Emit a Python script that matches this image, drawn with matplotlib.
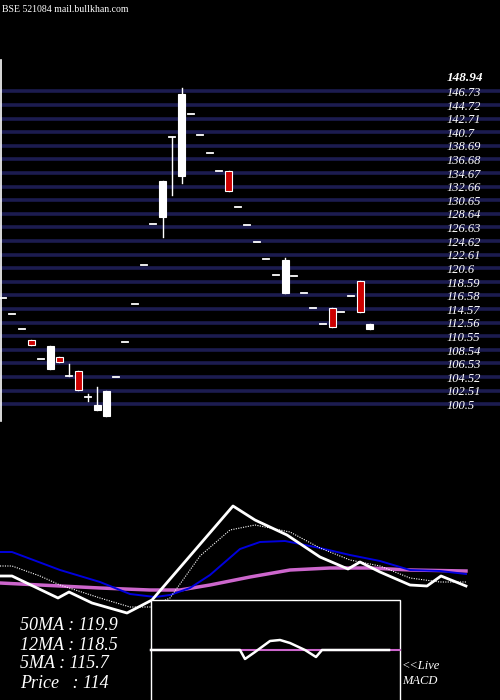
import matplotlib
matplotlib.use('Agg')
import matplotlib.pyplot as plt
from matplotlib.patches import Rectangle

# ---- candle data (price units) ----
opens  = [116.4, 114.05, 111.9, 110.25, 107.4, 105.97, 107.74, 104.99, 105.67, 101.78,
          99.9, 99.0, 104.74, 109.9, 115.5, 121.28, 127.34, 128.4, 140.23, 134.48,
          143.6, 140.6, 137.83, 135.17, 135.17, 129.9, 127.2, 124.68, 122.17, 119.8,
          117.24, 119.66, 117.15, 114.93, 112.66, 114.93, 114.34, 116.7, 118.92, 111.9]
closes = [116.4, 114.05, 111.9, 109.55, 107.4, 109.36, 107.04, 104.99, 102.86, 101.78,
          100.65, 102.7, 104.74, 109.9, 115.5, 121.28, 127.34, 133.7, 140.23, 146.63,
          143.6, 140.6, 137.83, 135.17, 132.3, 129.9, 127.2, 124.68, 122.17, 119.8,
          122.07, 119.66, 117.15, 114.93, 112.66, 112.12, 114.34, 116.7, 114.34, 112.57]
highs  = [116.4, 114.05, 111.9, 110.25, 107.4, 109.36, 107.74, 106.7, 105.67, 102.2,
          103.3, 102.7, 104.74, 109.9, 115.5, 121.28, 127.34, 133.7, 140.23, 147.47,
          143.6, 140.6, 137.83, 135.17, 135.17, 129.9, 127.2, 124.68, 122.17, 119.8,
          122.3, 119.66, 117.15, 114.93, 112.66, 114.93, 114.34, 116.7, 118.92, 112.57]
lows   = [116.4, 114.05, 111.9, 109.55, 107.4, 105.97, 107.04, 104.99, 102.86, 101.3,
          99.9, 99.0, 104.74, 109.9, 115.5, 121.28, 127.34, 125.46, 131.67, 133.5,
          143.6, 140.6, 137.83, 135.17, 132.3, 129.9, 127.2, 124.68, 122.17, 119.8,
          117.24, 119.66, 117.15, 114.93, 112.66, 112.12, 114.34, 116.7, 114.34, 111.9]

grid_prices = [146.73, 144.72, 142.71, 140.7, 138.69, 136.68, 134.67, 132.66, 130.65,
               128.64, 126.63, 124.62, 122.61, 120.6, 118.59, 116.58, 114.57, 112.56,
               110.55, 108.54, 106.53, 104.52, 102.51, 100.5]
grid_labels = ['146.73', '144.72', '142.71', '140.7', '138.69', '136.68', '134.67', '132.66',
               '130.65', '128.64', '126.63', '124.62', '122.61', '120.6', '118.59', '116.58',
               '114.57', '112.56', '110.55', '108.54', '106.53', '104.52', '102.51', '100.5']
top_price = 148.94

# ---- moving average panel (pixel rows) ----
price_x = [0, 12, 58, 69, 92, 127, 152, 233, 255, 287, 320, 348, 360, 380, 410, 427, 441, 466]
price_y = [576, 576, 598, 592, 603, 613, 600, 506, 520, 535, 557, 569, 562, 572, 585, 586, 576, 586]
ma5_x = [0, 12, 40, 60, 100, 130, 150, 170, 200, 230, 255, 290, 320, 350, 380, 410, 440, 466]
ma5_y = [566, 566, 576, 585, 598, 607, 607, 598, 556, 530, 525, 532, 548, 560, 566, 578, 582, 582]
ma12_x = [0, 12, 60, 100, 130, 155, 170, 190, 210, 240, 260, 285, 320, 350, 380, 410, 440, 466]
ma12_y = [552, 552, 570, 582, 594, 597, 595, 588, 575, 549, 542, 541, 548, 555, 561, 570, 571, 574]
ma50_x = [0, 60, 100, 150, 180, 210, 250, 290, 330, 370, 410, 466]
ma50_y = [583, 586, 588, 590, 590, 585, 577, 570, 568, 568, 570, 571]
macd_x = [151, 240, 245, 255, 270, 280, 290, 305, 316, 322, 389]
macd_y = [650, 650, 659, 652, 641, 640, 643, 650, 657, 650, 650]

fig = plt.figure(figsize=(5, 7), dpi=100, facecolor='black')
ax = fig.add_axes([0, 0, 1, 1])
ax.set_facecolor('black')
ax.set_xlim(0, 500)
ax.set_ylim(700, 0)
ax.axis('off')

axp = fig.add_axes([0, 270 / 700, 1, 430 / 700])
axp.patch.set_alpha(0)
axp.set_xlim(0, 500)
axp.set_ylim(96.95, 160.47)
axp.axis('off')

serif = 'Liberation Serif'
for p, lab in zip(grid_prices, grid_labels):
    axp.axhline(p + 0.25, color='#1c1c50', lw=2.6, zorder=1)
    axp.text(447, p, lab, color='white', fontsize=9, family=serif, style='italic',
             va='center', ha='left', zorder=3)
axp.text(447, top_price, f'{top_price}', color='white', fontsize=9.5, family=serif,
         style='italic', weight='bold', va='center', ha='left', zorder=3)
axp.axvline(0.8, ymin=(160.47 - 146.7 - 12) / 63.5 * 0 + 0.02, ymax=0.86, color='white', lw=1.2)

for i, (o, c, h, l) in enumerate(zip(opens, closes, highs, lows)):
    x = 3 + i * 9.4
    axp.plot([x, x], [l, h], color='white', lw=1, zorder=4)
    if abs(c - o) < 0.05:
        axp.plot([x - 3, x + 3], [o, o], color='white', lw=1.3, zorder=4)
    else:
        col = 'white' if c > o else '#cc0000'
        axp.add_patch(Rectangle((x - 3.5, min(o, c)), 7, abs(c - o), facecolor=col,
                                edgecolor='white', lw=0.8, zorder=5))

ax.text(2, 9, 'BSE 521084 mail.bullkhan.com', color='white', fontsize=7, family=serif,
        va='center', ha='left')

ax.plot(ma50_x, ma50_y, color='#cc66cc', lw=2.5)
ax.plot(ma12_x, ma12_y, color='#0000dd', lw=1.4)
ax.plot(ma5_x, ma5_y, color='white', lw=0.8, ls=(0, (1, 1.2)))
ax.plot(price_x, price_y, color='white', lw=2)

ax.add_patch(Rectangle((151, 600), 249, 105, facecolor='black', edgecolor='white', lw=1, zorder=6))
ax.plot([151, 400], [650, 650], color='#cc66cc', lw=1.5, zorder=7)
ax.plot(macd_x, macd_y, color='white', lw=1.8, zorder=8)

for yy, t in zip([625, 645, 664, 684], ['50MA : 119.9', '12MA : 118.5', '5MA : 115.7', 'Price   : 114']):
    ax.text(20, yy, t, color='white', fontsize=13, family=serif, style='italic', va='center')
ax.text(402, 666, '<<Live', color='white', fontsize=9, family=serif, style='italic', va='center')
ax.text(402, 681, 'MACD', color='white', fontsize=9, family=serif, style='italic', va='center')

fig.savefig('out.png', dpi=100, facecolor='black')
